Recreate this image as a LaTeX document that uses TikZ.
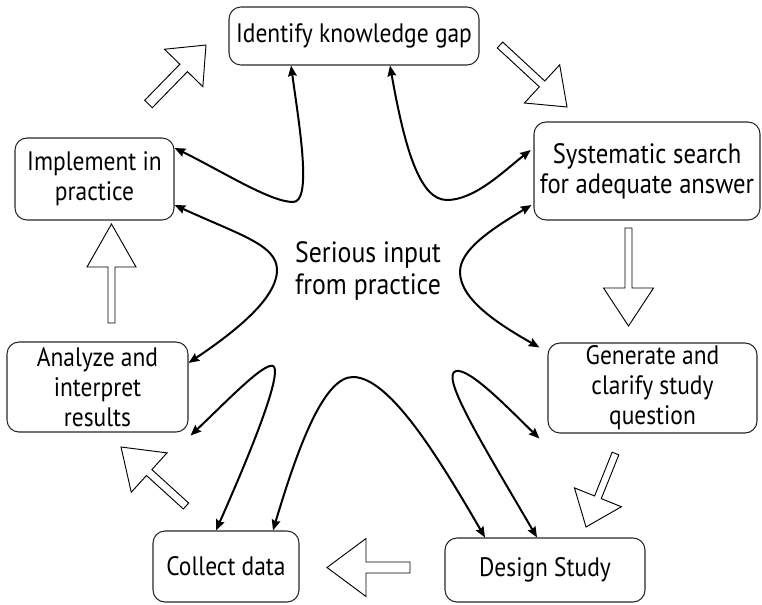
\documentclass[tikz,border=0pt]{standalone}
\usepackage{fontspec}
\setmainfont{PT Sans}[FakeStretch=0.88]
\usetikzlibrary{arrows.meta}
\newcommand{\hollowarrow}[7]{%
  \pgfmathsetmacro\haang{atan2(-((#4)-(#2)),(#3)-(#1))}%
  \pgfmathsetmacro\halen{veclen((#3)-(#1),(#4)-(#2))}%
  \begin{scope}[shift={(#1,#2)},rotate=\haang]
  \draw[hollow] (0,-#5) -- (\halen-#7,-#5) -- (\halen-#7,-#6) -- (\halen,0) -- (\halen-#7,#6) -- (\halen-#7,#5) -- (0,#5) -- cycle;
  \end{scope}}
\begin{document}
\begin{tikzpicture}[x=0.75pt,y=-0.75pt,
  box/.style={draw=black!85, line width=0.8pt, rounded corners=9pt, align=center, inner sep=0pt,
    font=\fontsize{20}{22.5}\selectfont},
  label/.style={align=center, inner sep=0pt, font=\fontsize{22}{24}\selectfont},
  link/.style={line width=1.5pt, {Stealth[length=8pt,width=6.5pt,inset=1pt]}-{Stealth[length=8pt,width=6.5pt,inset=1pt]}},
  hollow/.style={draw=black, line width=0.7pt, fill=white, line join=miter}]
\useasboundingbox (0,0) rectangle (762,604);

% boxes
\node[box, minimum width=187.5pt, minimum height=43.5pt] (idg) at (354,36) {Identify knowledge gap};
\node[box, minimum width=119.25pt, minimum height=61.5pt] (imp) at (94.5,179) {Implement in\\practice};
\node[box, minimum width=135.75pt, minimum height=67.5pt] (ana) at (97.5,387) {Analyze and\\interpret\\results};
\node[box, minimum width=169.5pt, minimum height=73.5pt, font=\fontsize{21}{22.5}\selectfont] (sys) at (647,171) {Systematic search\\for adequate answer};
\node[box, minimum width=156.75pt, minimum height=67.5pt] (gen) at (652.5,388) {Generate and\\clarify study\\question};
\node[box, minimum width=109.5pt, minimum height=53.25pt] (col) at (226,566.5) {Collect data};
\node[box, minimum width=150pt, minimum height=48pt] (des) at (545,570) {Design Study};
\node[label] (mid) at (368,271) {Serious input\\from practice};

% curved double-headed connectors
\draw[link] ([xshift=-47.25pt]idg.south) .. controls (300,130) and (312,202) .. (293,202)
  .. controls (270,202) and (220,170) .. ([yshift=23.25pt]imp.east);
\draw[link] ([xshift=27pt]idg.south) .. controls (405,150) and (420,200) .. (447,200)
  .. controls (475,200) and (505,170) .. ([xshift=-2pt,yshift=15.75pt]sys.west);
\draw[link] ([yshift=-19.5pt]imp.east) .. controls (240,235) and (277,245) .. (277,270)
  .. controls (277,300) and (230,335) .. ([yshift=18pt]ana.east);
\draw[link] ([xshift=-1.5pt,yshift=-25.5pt]sys.west) .. controls (490,230) and (460,250) .. (460,272)
  .. controls (460,300) and (500,325) .. ([xshift=-6pt,yshift=-3.75pt]gen.north west);
\draw[link] ([xshift=1.5pt,yshift=-2.25pt]ana.south east) .. controls (225,403) and (264,362) .. (273,366)
  .. controls (281,370) and (265,420) .. ([xshift=-7.5pt]col.north);
\draw[link] ([xshift=35.25pt]col.north) .. controls (300,440) and (325,377) .. (353,377)
  .. controls (390,377) and (440,460) .. ([xshift=-45pt]des.north);
\draw[link] ([xshift=-6pt]des.north) .. controls (480,440) and (440,375) .. (456,371)
  .. controls (470,368) and (510,410) .. ([xshift=-6pt,yshift=-3.75pt]gen.south west);

% hollow block arrows
\hollowarrow{148.5}{104}{206}{45}{5.3}{26.8}{32}
\hollowarrow{500}{45}{567}{107}{4}{26}{34}
\hollowarrow{628.5}{228}{628.5}{326}{3.5}{25}{38}
\hollowarrow{615.5}{453.5}{586}{527}{3.6}{25.3}{32}
\hollowarrow{410}{567.5}{327}{567.5}{5.5}{29}{39}
\hollowarrow{186}{506}{121}{447}{4}{26.6}{38}
\hollowarrow{111.5}{323}{111.5}{224}{3.5}{24.5}{43}
\end{tikzpicture}
\end{document}
